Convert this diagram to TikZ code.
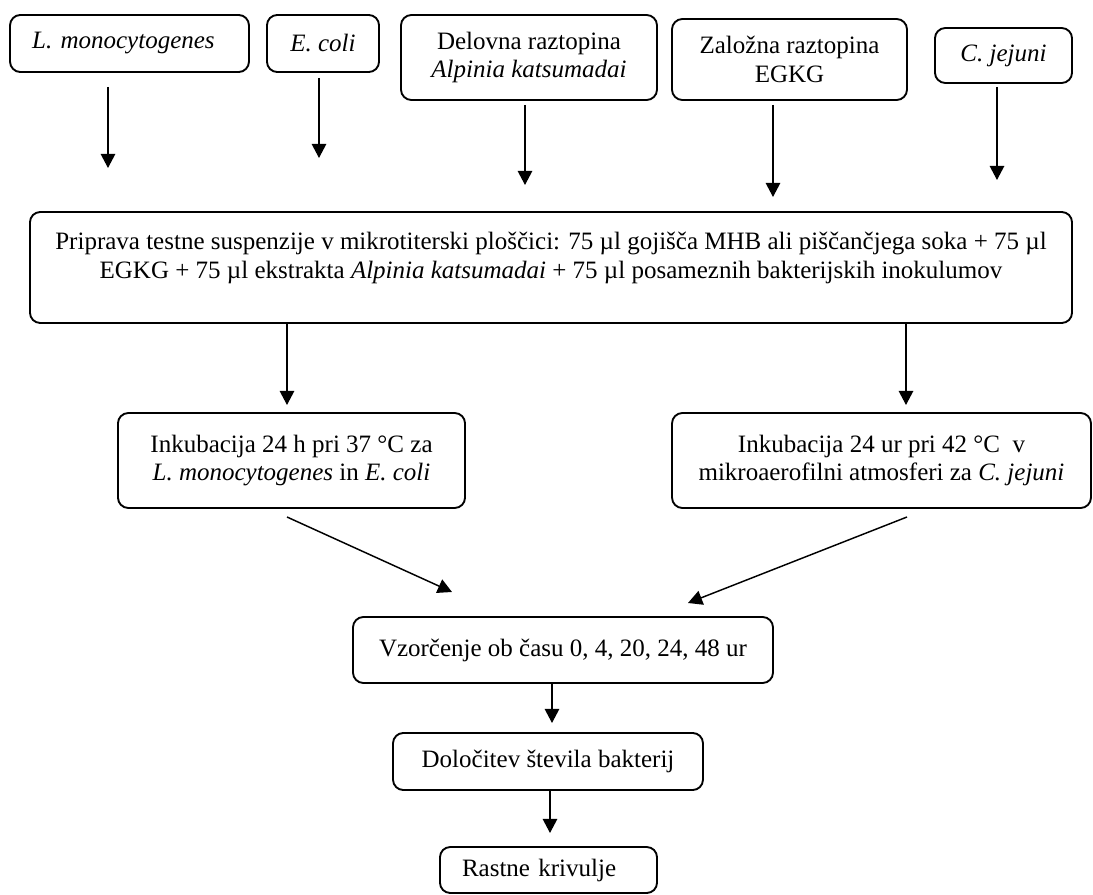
\documentclass[tikz,border=0pt]{standalone}
\usepackage{fontspec}
\setmainfont{Liberation Serif}
\usetikzlibrary{arrows.meta}

\begin{document}
\begin{tikzpicture}[x=0.48pt,y=0.48pt,yscale=-1,xscale=1,
  box/.style={draw,line width=0.9pt,rounded corners=5pt,align=center,inner sep=2pt,font=\fontsize{12}{13.6}\selectfont},
  txt/.style={inner sep=0pt,align=center,font=\fontsize{12}{13.6}\selectfont},
  arr/.style={line width=0.7pt,-{Triangle[length=6.8pt,width=7pt]}}]
%set diagram left start at 0, and has height of 895
\useasboundingbox (0,0) rectangle (1093,895);

%Shape: top row
\node [box,minimum height=27.4pt,text width=93.5pt,inner xsep=10.6pt,align=left] (lmono) at (129.5,43.5) {\textit{L. monocytogenes}};
\node [box,minimum width=53.8pt,minimum height=27.4pt] (ecoli) at (323,43.5) {\textit{E. coli}};
\node [box,minimum width=122.9pt,minimum height=40.8pt] (delovna) at (529,57.5) {Delovna raztopina\\\textit{Alpinia katsumadai}};
\node [box,minimum width=112.8pt,minimum height=38.9pt] (zalozna) at (789.5,59.5) {Založna raztopina\\EGKG};
\node [box,minimum width=65.8pt,minimum height=26.4pt] (cjej) at (1003.5,55.5) {\textit{C. jejuni}};

%Shape: test suspension
\node [box,minimum width=500.2pt,minimum height=53.3pt] (prip) at (551,267.5) {};
% Text Node
\node [txt] (priptxt) at (551,258) {Priprava testne suspenzije v mikrotiterski ploščici: 75 µl gojišča MHB ali piščančjega soka + 75 µl\\EGKG + 75 µl ekstrakta \textit{Alpinia katsumadai} + 75 µl posameznih bakterijskih inokulumov};

%Shape: incubation
\node [box,minimum width=166.6pt,minimum height=45.6pt] (inkl) at (291.5,460.5) {Inkubacija 24 h pri 37 °C za\\\textit{L. monocytogenes} in \textit{E. coli}};
\node [box,minimum width=201.1pt,minimum height=45.6pt] (inkr) at (881.5,460.5) {Inkubacija 24 ur pri 42 °C~~v\\mikroaerofilni atmosferi za \textit{C. jejuni}};

%Shape: sampling and counting
\node [box,minimum width=201.6pt,minimum height=31.7pt] (vzor) at (563,650) {Vzorčenje ob času 0, 4, 20, 24, 48 ur};
\node [box,minimum width=148.8pt,minimum height=27.4pt] (dolo) at (548,761.5) {Določitev števila bakterij};
\node [box,minimum height=22.1pt,text width=83pt,inner xsep=10.6pt,align=left] (rast) at (548.5,870) {Rastne krivulje};

%Straight Lines: arrow ends
\coordinate (a1s) at (108,87);  \coordinate (a1e) at (108,168);
\coordinate (a2s) at (319,78);  \coordinate (a2e) at (319,158);
\coordinate (a3s) at (525,105); \coordinate (a3e) at (525,185);
\coordinate (a4s) at (773,105); \coordinate (a4e) at (773,197);
\coordinate (a5s) at (997,87);  \coordinate (a5e) at (997,180);
\coordinate (b1e) at (287,405); \coordinate (b2e) at (906,405);
\coordinate (c1s) at (287,517); \coordinate (c1e) at (452,592);
\coordinate (c2s) at (907,517); \coordinate (c2e) at (688,603);
\coordinate (d1e) at (552,723); \coordinate (d2e) at (550,833);

\draw [arr] (a1s) -- (a1e);
\draw [arr] (a2s) -- (a2e);
\draw [arr] (a3s) -- (a3e);
\draw [arr] (a4s) -- (a4e);
\draw [arr] (a5s) -- (a5e);
\draw [arr] (prip.south -| b1e) -- (b1e);
\draw [arr] (prip.south -| b2e) -- (b2e);
\draw [arr] (c1s) -- (c1e);
\draw [arr] (c2s) -- (c2e);
\draw [arr] (vzor.south -| d1e) -- (d1e);
\draw [arr] (dolo.south -| d2e) -- (d2e);

\end{tikzpicture}
\end{document}
